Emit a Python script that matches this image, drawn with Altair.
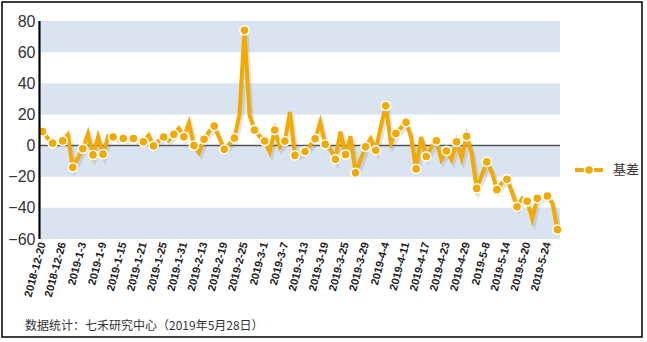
import altair as alt
import pandas as pd

# ---------------- data ----------------
dates = [
    "2018-12-20", "2018-12-21", "2018-12-24", "2018-12-25", "2018-12-26", "2018-12-27", "2018-12-28",
    "2019-1-2", "2019-1-3", "2019-1-4", "2019-1-7", "2019-1-8", "2019-1-9", "2019-1-10", "2019-1-11",
    "2019-1-14", "2019-1-15", "2019-1-16", "2019-1-17", "2019-1-18", "2019-1-21", "2019-1-22",
    "2019-1-23", "2019-1-24", "2019-1-25", "2019-1-28", "2019-1-29", "2019-1-30", "2019-1-31",
    "2019-2-1", "2019-2-11", "2019-2-12", "2019-2-13", "2019-2-14", "2019-2-15", "2019-2-18",
    "2019-2-19", "2019-2-20", "2019-2-21", "2019-2-22", "2019-2-25", "2019-2-26", "2019-2-27",
    "2019-2-28", "2019-3-1", "2019-3-4", "2019-3-5", "2019-3-6", "2019-3-7", "2019-3-8",
    "2019-3-11", "2019-3-12", "2019-3-13", "2019-3-14", "2019-3-15", "2019-3-18", "2019-3-19",
    "2019-3-20", "2019-3-21", "2019-3-22", "2019-3-25", "2019-3-26", "2019-3-27", "2019-3-28",
    "2019-3-29", "2019-4-1", "2019-4-2", "2019-4-3", "2019-4-4", "2019-4-8", "2019-4-9",
    "2019-4-10", "2019-4-11", "2019-4-12", "2019-4-15", "2019-4-16", "2019-4-17", "2019-4-18",
    "2019-4-19", "2019-4-22", "2019-4-23", "2019-4-24", "2019-4-25", "2019-4-26", "2019-4-29",
    "2019-4-30", "2019-5-6", "2019-5-7", "2019-5-8", "2019-5-9", "2019-5-10", "2019-5-13",
    "2019-5-14", "2019-5-15", "2019-5-16", "2019-5-17", "2019-5-20", "2019-5-21", "2019-5-22",
    "2019-5-23", "2019-5-24", "2019-5-27", "2019-5-28",
]

basis = [
    9, 5, 1.5, 2.5, 3, 7, -14, -8, -2, 7.5,
    -6, 5.5, -5.5, 6, 5.5, 4.5, 4.5, 4.5, 4.5, 3,
    2.4, 6.5, -0.2, 3, 5.5, 3.5, 7.2, 11, 5.7, 14.5,
    0, -4.5, 4, 9, 12.5, 5, -2.4, 1, 4.8, 19.6,
    74, 19.6, 10, 6, 2.9, -4, 10, -1, 2.9, 21.5,
    -6.3, -5, -3.8, 0, 4.4, 15, 0.8, -2, -8.8, 9,
    -5.8, 6, -17.5, -9, -0.8, 4.5, -3, 12, 25.5, 1.5,
    7.8, 11.5, 15, 5.5, -15, 5.5, -7, -1, 3.1, -9,
    -3.5, -9, 2.4, -8, 6, -5, -27.5, -19, -10.5, -17,
    -28.3, -24, -21.6, -30, -39.3, -34, -35.8, -47, -33.9, -33,
    -32.4, -37, -54,
]

tick_labels = [
    "2018-12-20", "2018-12-26", "2019-1-3", "2019-1-9", "2019-1-15", "2019-1-21", "2019-1-25",
    "2019-1-31", "2019-2-13", "2019-2-19", "2019-2-25", "2019-3-1", "2019-3-7", "2019-3-13",
    "2019-3-19", "2019-3-25", "2019-3-29", "2019-4-4", "2019-4-11", "2019-4-17", "2019-4-23",
    "2019-4-29", "2019-5-8", "2019-5-14", "2019-5-20", "2019-5-24",
]

y_ticks = [-60, -40, -20, 0, 20, 40, 60, 80]
band_lo = [60, 20, -20, -60]
band_hi = [80, 40, 0, -40]

series_name = "基差"
source_note = "数据统计：七禾研究中心（2019年5月28日）"

# ---------------- styles ----------------
W, H = 520, 218
ORANGE = "#F2A900"
BAND = "#DAE4F0"
FONT = "Liberation Sans"
CJK = "Noto Sans CJK SC"

df = pd.DataFrame({"date": dates, "value": basis})
df["idx"] = range(len(df))
marked = df[df["idx"] % 2 == 0]

bands = pd.DataFrame({"lo": band_lo, "hi": band_hi})
zero = pd.DataFrame({"v": [0]})
yaxis_df = pd.DataFrame({"top": [max(y_ticks)], "bottom": [min(y_ticks)]})

y_scale = alt.Scale(domain=[-60, 80], nice=False, zero=False)
y_axis = alt.Axis(
    values=y_ticks, title=None, grid=False, ticks=False, domain=False,
    labelFont=FONT, labelFontSize=16, labelColor="#333333", labelPadding=5,
)
x_enc = alt.X(
    "date:N", sort=None,
    scale=alt.Scale(type="point", padding=0.5),
    axis=alt.Axis(
        values=tick_labels, title=None, labelAngle=-75, ticks=False, domain=False,
        grid=False, labelFont=FONT, labelFontSize=11, labelColor="#222222",
        labelPadding=3, labelOverlap=False, labelFontWeight="bold",
    ),
)

band_layer = alt.Chart(bands).mark_rect(color=BAND).encode(
    y=alt.Y("lo:Q", scale=y_scale, axis=y_axis),
    y2="hi:Q",
    x=alt.value(1),
    x2=alt.value(W),
)

zero_layer = alt.Chart(zero).mark_rule(color="#555555", strokeWidth=1.5).encode(
    y=alt.Y("v:Q", scale=y_scale, axis=y_axis),
)

y_axis_line = alt.Chart(yaxis_df).mark_rule(color="#000000", strokeWidth=2.2).encode(
    x=alt.value(-0.5),
    y=alt.Y("top:Q", scale=y_scale, axis=y_axis),
    y2="bottom:Q",
)

shadow = alt.Chart(df).mark_line(
    color="#7a7a7a", opacity=0.22, strokeWidth=4.5, xOffset=2, yOffset=3
).encode(x=x_enc, y=alt.Y("value:Q", scale=y_scale, axis=y_axis))

line = alt.Chart(df).mark_line(color=ORANGE, strokeWidth=4, strokeJoin="miter").encode(
    x=x_enc, y=alt.Y("value:Q", scale=y_scale, axis=y_axis)
)

points = alt.Chart(marked).mark_point(
    filled=True, fill=ORANGE, stroke="white", strokeWidth=1.6, size=85, opacity=1, shape="circle"
).encode(x=x_enc, y=alt.Y("value:Q", scale=y_scale, axis=y_axis))

leg = pd.DataFrame({"label": [series_name]})
leg_line = alt.Chart(leg).mark_rule(color=ORANGE, strokeWidth=4).encode(
    x=alt.value(535), x2=alt.value(563), y=alt.value(149)
)
leg_pt = alt.Chart(leg).mark_point(
    filled=True, fill=ORANGE, stroke="white", strokeWidth=1.6, size=85, opacity=1, shape="circle"
).encode(x=alt.value(549), y=alt.value(149))
leg_txt = alt.Chart(leg).mark_text(
    align="left", baseline="middle", font=CJK, fontSize=13, color="#333333"
).encode(x=alt.value(573), y=alt.value(149), text="label:N")

note = pd.DataFrame({"t": [source_note]})
note_txt = alt.Chart(note).mark_text(
    align="left", baseline="middle", font=CJK, fontSize=12, color="#333333"
).encode(x=alt.value(-15), y=alt.value(305), text="t:N")

border = alt.Chart(note).mark_rect(
    fill="transparent", stroke="#000000", strokeWidth=1.5
).encode(x=alt.value(-38), x2=alt.value(602), y=alt.value(-19), y2=alt.value(316))

chart = alt.layer(
    band_layer, zero_layer, shadow, line, points, y_axis_line,
    leg_line, leg_pt, leg_txt, note_txt, border
).properties(
    width=W, height=H,
    autosize=alt.AutoSizeParams(type="none"),
    padding={"left": 40, "top": 21, "right": 87, "bottom": 103},
    background="white",
).configure_view(stroke=None)

chart.save("out.html", embed_options={"renderer": "svg", "actions": False})
